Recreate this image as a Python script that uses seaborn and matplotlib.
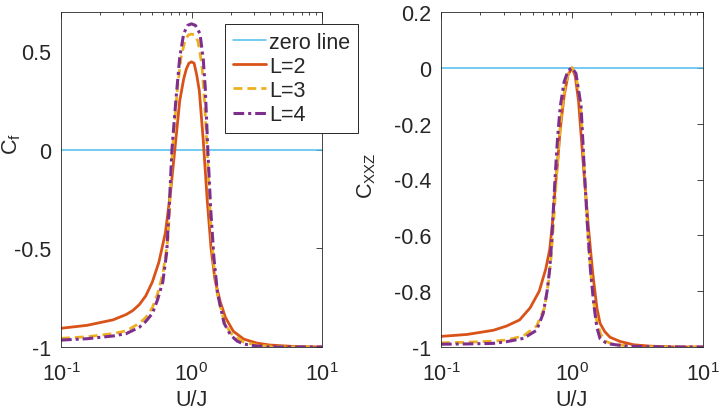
# Import libraries/modules
import numpy as np
import pandas as pd
import matplotlib
matplotlib.use('Agg')
import matplotlib.pyplot as plt
from matplotlib.ticker import FixedLocator, FixedFormatter, LogLocator, NullFormatter
import seaborn as sns

# Data (x given as log10(U/J))
# left panel: C_f
cf_l2_logx = [-1.0, -0.8, -0.6, -0.5, -0.45, -0.4, -0.35, -0.3, -0.25, -0.2, -0.16, -0.125, -0.09, -0.06,
              -0.04, -0.02, 0.0, 0.02, 0.04, 0.06, 0.09, 0.12, 0.15, 0.18, 0.22, 0.26, 0.32, 0.4, 0.5, 0.6,
              0.8, 1.0]
cf_l2 = [-0.905, -0.89, -0.862, -0.835, -0.815, -0.785, -0.74, -0.67, -0.57, -0.42, -0.21, 0.02, 0.25, 0.36,
         0.41, 0.44, 0.447, 0.44, 0.38, 0.30, 0.05, -0.25, -0.50, -0.66, -0.77, -0.85, -0.92, -0.96, -0.98,
         -0.99, -0.998, -1.0]
cf_l3_logx = [-1.0, -0.8, -0.6, -0.5, -0.4, -0.35, -0.3, -0.26, -0.22, -0.18, -0.145, -0.11, -0.08, -0.05,
              -0.025, 0.0, 0.025, 0.05, 0.08, 0.1, 0.12, 0.145, 0.17, 0.2, 0.25, 0.3, 0.4, 0.5, 0.6, 0.8, 1.0]
cf_l3 = [-0.956, -0.948, -0.932, -0.918, -0.88, -0.85, -0.80, -0.73, -0.63, -0.45, 0.0, 0.30, 0.47, 0.555,
         0.583, 0.588, 0.583, 0.55, 0.43, 0.24, 0.0, -0.35, -0.58, -0.74, -0.87, -0.93, -0.975, -0.99, -0.996,
         -1.0, -1.0]
cf_l4_logx = [-1.0, -0.8, -0.6, -0.5, -0.4, -0.35, -0.3, -0.26, -0.22, -0.19, -0.17, -0.15, -0.12, -0.09,
              -0.06, -0.03, 0.0, 0.03, 0.065, 0.09, 0.105, 0.125, 0.147, 0.172, 0.2, 0.25, 0.3, 0.35, 0.4, 0.5,
              0.6, 0.8, 1.0]
cf_l4 = [-0.965, -0.958, -0.944, -0.932, -0.90, -0.87, -0.83, -0.76, -0.67, -0.52, -0.28, 0.0, 0.25, 0.47,
         0.59, 0.632, 0.64, 0.632, 0.59, 0.46, 0.32, 0.0, -0.30, -0.55, -0.73, -0.88, -0.94, -0.97, -0.985,
         -0.995, -1.0, -1.0, -1.0]

# right panel: C_XXZ
cx_l2_logx = [-1.0, -0.8, -0.6, -0.5, -0.4, -0.32, -0.25, -0.2, -0.17, -0.15, -0.13, -0.11, -0.09, -0.06,
              -0.03, 0.0, 0.025, 0.05, 0.087, 0.125, 0.158, 0.19, 0.214, 0.25, 0.29, 0.366, 0.47, 0.6, 0.8, 1.0]
cx_l2 = [-0.962, -0.955, -0.94, -0.925, -0.903, -0.86, -0.80, -0.72, -0.65, -0.56, -0.44, -0.34, -0.22, -0.10,
         -0.025, 0.0, -0.03, -0.12, -0.35, -0.57, -0.735, -0.86, -0.915, -0.945, -0.965, -0.98, -0.992, -0.997,
         -1.0, -1.0]
cx_l3_logx = [-1.0, -0.8, -0.6, -0.5, -0.37, -0.27, -0.21, -0.18, -0.16, -0.14, -0.12, -0.1, -0.08, -0.05,
              -0.025, 0.0, 0.03, 0.065, 0.09, 0.115, 0.14, 0.165, 0.19, 0.22, 0.26, 0.3, 0.4, 0.5, 0.7, 1.0]
cx_l3 = [-0.985, -0.983, -0.979, -0.975, -0.96, -0.925, -0.86, -0.77, -0.68, -0.55, -0.40, -0.27, -0.16, -0.06,
         -0.015, 0.0, -0.025, -0.13, -0.33, -0.55, -0.72, -0.84, -0.91, -0.955, -0.98, -0.988, -0.995, -0.998,
         -1.0, -1.0]
cx_l4_logx = [-1.0, -0.8, -0.6, -0.5, -0.37, -0.27, -0.22, -0.19, -0.17, -0.155, -0.13, -0.11, -0.09, -0.06,
              -0.03, 0.0, 0.03, 0.069, 0.095, 0.12, 0.143, 0.17, 0.19, 0.214, 0.26, 0.3, 0.4, 0.5, 0.7, 1.0]
cx_l4 = [-0.99, -0.989, -0.987, -0.981, -0.969, -0.94, -0.88, -0.80, -0.72, -0.62, -0.40, -0.25, -0.14, -0.05,
         -0.01, 0.0, -0.02, -0.137, -0.376, -0.58, -0.735, -0.86, -0.93, -0.97, -0.985, -0.99, -0.996, -0.998,
         -1.0, -1.0]

zero_x = [0.1, 10]
zero_y = [0, 0]

series_names = ['L=2', 'L=3', 'L=4']
xticks = [0.1, 1, 10]
xticklabels = [r'$10^{\text{-}1}$', r'$10^{0}$', r'$10^{1}$']
cf_yticks = [-1, -0.5, 0, 0.5]
cf_yticklabels = ['-1', '-0.5', '0', '0.5']
cx_yticks = [-1, -0.8, -0.6, -0.4, -0.2, 0, 0.2]
cx_yticklabels = ['-1', '-0.8', '-0.6', '-0.4', '-0.2', '0', '0.2']

# Styles
colors = {'zero line': '#4DBEEE', 'L=2': '#D95319', 'L=3': '#EDB120', 'L=4': '#7E2F8E'}
dashes = {'L=2': '-', 'L=3': (0, (3.2, 1.8)), 'L=4': (0, (3.5, 1.3, 1.0, 1.3))}
widths = {'L=2': 2.0, 'L=3': 2.0, 'L=4': 2.2}


def make_df(logxs, ys):
    frames = []
    for name, lx, y in zip(series_names, logxs, ys):
        frames.append(pd.DataFrame({'U/J': np.power(10.0, lx), 'C': y, 'L': name}))
    return pd.concat(frames, ignore_index=True)


def draw_panel(ax, df, yticks, yticklabels, ylim, ylabel):
    sns.lineplot(x=zero_x, y=zero_y, ax=ax, color=colors['zero line'], linewidth=1.1, label='zero line')
    for name in series_names:
        sub = df[df['L'] == name]
        sns.lineplot(data=sub, x='U/J', y='C', ax=ax, color=colors[name], linestyle=dashes[name],
                     linewidth=widths[name], label=name, sort=False)
    ax.set_xscale('log')
    ax.set_xlim(0.1, 10)
    ax.set_ylim(*ylim)
    ax.xaxis.set_major_locator(FixedLocator(xticks))
    ax.xaxis.set_major_formatter(FixedFormatter(xticklabels))
    ax.xaxis.set_minor_locator(LogLocator(base=10, subs=np.arange(2, 10), numticks=20))
    ax.xaxis.set_minor_formatter(NullFormatter())
    ax.yaxis.set_major_locator(FixedLocator(yticks))
    ax.yaxis.set_major_formatter(FixedFormatter(yticklabels))
    ax.tick_params(axis='both', which='both', direction='in', top=True, right=True,
                   colors='#262626', labelcolor='#262626', width=0.6)
    ax.tick_params(axis='both', which='major', length=4, labelsize=15.5, pad=7)
    ax.tick_params(axis='x', which='major', pad=11)
    ax.tick_params(axis='x', which='minor', length=2.2)
    for sp in ax.spines.values():
        sp.set_visible(True)
        sp.set_color('#262626')
        sp.set_linewidth(0.6)
    ax.set_xlabel('U/J', fontsize=15.5, color='#262626')
    ax.set_ylabel(ylabel, fontsize=15.5, color='#262626')
    ax.xaxis.set_label_coords(0.5, -0.125)


sns.set_style('white')
plt.rcParams['font.family'] = ['Liberation Sans', 'DejaVu Sans']
plt.rcParams['mathtext.fontset'] = 'custom'
plt.rcParams['mathtext.rm'] = 'Liberation Sans'
plt.rcParams['mathtext.it'] = 'Liberation Sans:italic'
plt.rcParams['mathtext.default'] = 'regular'
plt.rcParams['axes.unicode_minus'] = False

fig = plt.figure(figsize=(7.21, 4.14), dpi=100)
ax1 = fig.add_axes([61 / 721, 66 / 414, 261 / 721, 335 / 414])
ax2 = fig.add_axes([441 / 721, 66 / 414, 262 / 721, 335 / 414])

df_cf = make_df([cf_l2_logx, cf_l3_logx, cf_l4_logx], [cf_l2, cf_l3, cf_l4])
df_cx = make_df([cx_l2_logx, cx_l3_logx, cx_l4_logx], [cx_l2, cx_l3, cx_l4])

draw_panel(ax1, df_cf, cf_yticks, cf_yticklabels, (-1, 0.7), r'C$_f$')
draw_panel(ax2, df_cx, cx_yticks, cx_yticklabels, (-1, 0.2), r'C$_{XXZ}$')
ax1.yaxis.set_label_coords(-0.145, 0.61)
ax2.yaxis.set_label_coords(-0.24, 0.515)

ax2.get_legend().remove()
leg = ax1.legend(loc='upper left', bbox_to_anchor=(225 / 721, 1 - 25 / 414), bbox_transform=fig.transFigure,
                 borderaxespad=0, fancybox=False, framealpha=1, edgecolor='#262626', fontsize=15.5,
                 handlelength=1.55, handletextpad=0.15, labelspacing=0.15, borderpad=0.35)
leg.get_frame().set_linewidth(0.7)

plt.savefig('out.png', dpi=100)
